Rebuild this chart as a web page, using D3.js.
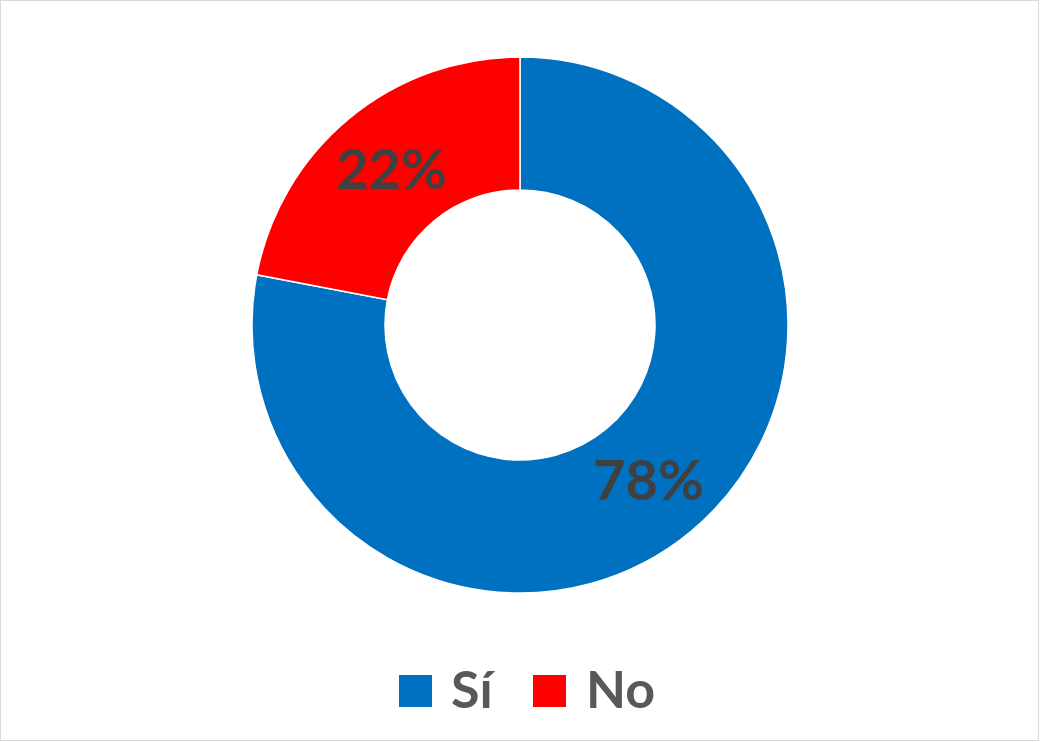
<!DOCTYPE html>
<html><head><meta charset="utf-8">
<script src="https://cdn.jsdelivr.net/npm/d3@7/dist/d3.min.js"></script>
<style>html,body{margin:0;padding:0;background:#fff;}svg{display:block;}</style>
</head><body>
<svg id="chart" width="1040" height="742"></svg>
<script>
const categories = ["Sí", "No"];
const values = [78, 22];
const colors = ["#0070C0", "#FF0000"];

const svg = d3.select("#chart");
const W = 1040, H = 742;
svg.append("rect").attr("x", 0.5).attr("y", 0.5).attr("width", W - 2).attr("height", H - 2)
  .attr("fill", "#fff").attr("stroke", "#d9d9d9").attr("stroke-width", 1);

const cx = 520, cy = 325, R = 268, r = 135;
const pie = d3.pie().sort(null).value(d => d.v);
const data = pie(categories.map((c, i) => ({c, v: values[i], col: colors[i]})));
const arc = d3.arc().innerRadius(r).outerRadius(R);
const g = svg.append("g").attr("transform", `translate(${cx},${cy})`);
g.selectAll("path").data(data).join("path")
  .attr("d", arc).attr("fill", d => d.data.col)
  .attr("stroke", "#fff").attr("stroke-width", 1.5);
const total = d3.sum(values);
g.selectAll("text").data(data).join("text")
  .attr("transform", d => `translate(${arc.centroid(d)})`)
  .attr("text-anchor", "middle").attr("dy", "0.35em")
  .attr("font-family", "Lato, 'Open Sans', sans-serif").attr("font-weight", "bold")
  .attr("font-size", 56).attr("fill", "#404040")
  .text(d => Math.round(d.data.v / total * 100) + "%");

// legend
const legend = svg.append("g");
const items = [{x: 399, tx: 451}, {x: 533, tx: 586}];
categories.forEach((c, i) => {
  legend.append("rect").attr("x", items[i].x).attr("y", 675).attr("width", 33).attr("height", 32)
    .attr("fill", colors[i]);
  legend.append("text").attr("x", items[i].tx).attr("y", 708)
    .attr("font-family", "Lato, 'Open Sans', sans-serif").attr("font-weight", "bold")
    .attr("font-size", 52).attr("fill", "#595959").text(c);
});
</script>
</body></html>
